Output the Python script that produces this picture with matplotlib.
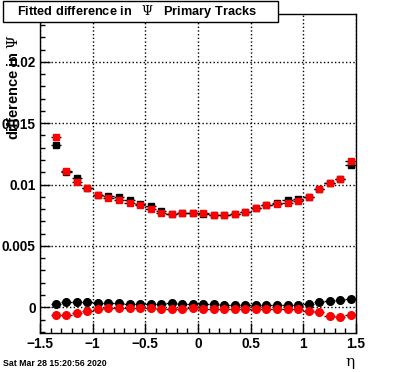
import matplotlib
matplotlib.use("Agg")
import matplotlib.pyplot as plt
from matplotlib.patches import Rectangle
from matplotlib.ticker import MultipleLocator

# eta bin centres
eta = [-1.35, -1.25, -1.15, -1.05, -0.95, -0.85, -0.75, -0.65, -0.55, -0.45,
       -0.35, -0.25, -0.15, -0.05, 0.05, 0.15, 0.25, 0.35, 0.45, 0.55,
       0.65, 0.75, 0.85, 0.95, 1.05, 1.15, 1.25, 1.35, 1.45]

# upper curves (squares)
sq_black = [0.01322, 0.01105, 0.0105, 0.0097, 0.00917, 0.00904, 0.00895, 0.00876, 0.00838, 0.00825,
            0.00784, 0.0076, 0.0077, 0.00765, 0.00757, 0.00754, 0.00754, 0.0076, 0.00778, 0.00811,
            0.00835, 0.00848, 0.00871, 0.00882, 0.00901, 0.00966, 0.01015, 0.01047, 0.01156]
sq_red = [0.01389, 0.0111, 0.01023, 0.00974, 0.00917, 0.00892, 0.00873, 0.00849, 0.00836, 0.00803,
          0.0077, 0.0076, 0.0077, 0.0077, 0.00765, 0.00754, 0.00754, 0.00762, 0.00778, 0.00811,
          0.00835, 0.00844, 0.00852, 0.00868, 0.00901, 0.00966, 0.01015, 0.01047, 0.01194]

# lower curves (circles)
ci_black = [0.00027, 0.00046, 0.00046, 0.00046, 0.00037, 0.00033, 0.00033, 0.00027, 0.00027, 0.00024,
            0.00024, 0.00033, 0.00024, 0.00024, 0.00024, 0.00024, 0.00015, 0.00015, 0.00015, 0.00015,
            0.00015, 0.00015, 0.00015, 0.00015, 0.00024, 0.00046, 0.00051, 0.00057, 0.00065]
ci_red = [-0.00063, -0.00063, -0.00049, -0.0003, -0.00016, -0.0001, -0.00005, -0.0001, -0.0001, -0.0001,
          -0.00012, -0.00012, -0.00014, -0.00005, -0.00014, -0.00014, -0.00014, -0.00014, -0.00014, -0.00014,
          -0.00014, -0.00014, -0.00014, -0.00014, -0.00028, -0.00036, -0.00068, -0.00077, -0.00065]

xticks = [-1.5, -1, -0.5, 0, 0.5, 1, 1.5]
xticklabels = ["\u22121.5", "\u22121", "\u22120.5", "0", "0.5", "1", "1.5"]
yticks = [0, 0.005, 0.01, 0.015, 0.02]
yticklabels = ["0", "0.005", "0.01", "0.015", "0.02"]

plt.rcParams['font.family'] = ['Liberation Sans', 'DejaVu Sans']
plt.rcParams['mathtext.fontset'] = 'dejavuserif'

W, H = 396, 372
fig = plt.figure(figsize=(W / 100, H / 100), dpi=100)
ax = fig.add_axes([40 / W, 39 / H, 316 / W, 319 / H])

half = 0.05
ax.errorbar(eta, sq_black, xerr=half, fmt='s', color='black', ecolor='black', ms=5, elinewidth=1, zorder=3)
ax.errorbar(eta, sq_red, xerr=half, fmt='s', color='red', ecolor='black', ms=5, elinewidth=1, zorder=4)
ax.errorbar(eta, ci_black, xerr=half, fmt='o', color='black', ecolor='black', ms=5.5, elinewidth=1, zorder=3)
ax.errorbar(eta, ci_red, xerr=half, fmt='o', color='red', ecolor='black', ms=5.5, elinewidth=1, zorder=4)

ax.set_xlim(-1.5, 1.5)
ax.set_ylim(-0.0021, 0.0239)
ax.set_xticks(xticks)
ax.set_xticklabels(xticklabels, fontsize=9.8, fontweight='bold')
ax.set_yticks(yticks)
ax.set_yticklabels(yticklabels, fontsize=9.8, fontweight='bold')
ax.xaxis.set_minor_locator(MultipleLocator(0.1))
ax.yaxis.set_minor_locator(MultipleLocator(0.001))
ax.tick_params(which='both', direction='in', top=False, right=False, width=1, pad=3)
ax.tick_params(which='major', length=7)
ax.tick_params(which='minor', length=3.5)
ax.grid(True, which='major', color='black', linestyle=':', linewidth=1)
ax.set_axisbelow(True)
for s in ax.spines.values():
    s.set_linewidth(1)

# title box
fig.patches.append(Rectangle((3 / W, (H - 22) / H), 275 / W, 21 / H, transform=fig.transFigure,
                             facecolor='white', edgecolor='black', linewidth=1, zorder=10))
fig.text(137.5 / W, (H - 11.5) / H, r"Fitted difference in   $\Psi$   Primary Tracks",
         ha='center', va='center', fontsize=9.2, fontweight='bold', zorder=11)

fig.text(13 / W, (H - 35) / H, r"difference in $\Psi$", rotation=90, ha='center', va='top',
         fontsize=10.5, fontweight='bold')
fig.text(350 / W, (H - 362) / H, "\u03b7", ha='center', va='center', fontsize=11,
         family=['DejaVu Serif'])
fig.text(3 / W, (H - 364) / H, "Sat Mar 28 15:20:56 2020", ha='left', va='center',
         fontsize=6.3, fontweight='bold')

fig.savefig("out.png", dpi=100)
